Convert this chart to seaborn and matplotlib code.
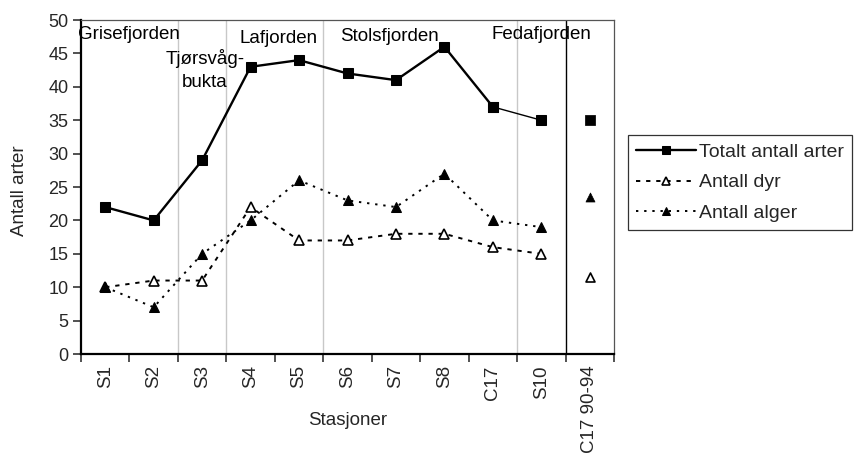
import matplotlib
matplotlib.use("Agg")
import matplotlib.pyplot as plt
import seaborn as sns
import pandas as pd

stations = ["S1", "S2", "S3", "S4", "S5", "S6", "S7", "S8", "C17", "S10"]
extra_station = ["C17 90-94"]
totalt = [22, 20, 29, 43, 44, 42, 41, 46, 37, 35]
dyr = [10, 11, 11, 22, 17, 17, 18, 18, 16, 15]
alger = [10, 7, 15, 20, 26, 23, 22, 27, 20, 19]
extra_totalt = [35]
extra_dyr = [11.5]
extra_alger = [23.5]
yticks = [0, 5, 10, 15, 20, 25, 30, 35, 40, 45, 50]

sns.set_theme(style="white")
plt.rcParams["font.family"] = ["Liberation Sans", "DejaVu Sans"]

fig = plt.figure(figsize=(8.68, 4.66), dpi=100)
ax = fig.add_axes([0.0933, 0.2403, 0.6141, 0.7167])

df = pd.DataFrame({"Stasjon": stations, "tot": totalt, "dyr": dyr, "alg": alger})
dfx = pd.DataFrame({"Stasjon": extra_station, "tot": extra_totalt, "dyr": extra_dyr, "alg": extra_alger})

sns.lineplot(data=df.iloc[:9], x="Stasjon", y="tot", ax=ax, color="black", lw=1.7,
             marker="s", markersize=7, markeredgecolor="black", label="Totalt antall arter", sort=False)
sns.lineplot(data=df.iloc[8:], x="Stasjon", y="tot", ax=ax, color="black", lw=1.0,
             marker="s", markersize=7, markeredgecolor="black", legend=False, sort=False)
sns.lineplot(data=df, x="Stasjon", y="dyr", ax=ax, color="black", lw=1.4,
             marker="^", markersize=7, markerfacecolor="white", markeredgecolor="black",
             markeredgewidth=1.2, label="Antall dyr", sort=False, linestyle=(0, (2.2, 3)))
sns.lineplot(data=df, x="Stasjon", y="alg", ax=ax, color="black", lw=1.4,
             marker="^", markersize=7, markeredgecolor="black",
             label="Antall alger", sort=False, linestyle=(0, (1.2, 3)))

sns.scatterplot(data=dfx, x="Stasjon", y="tot", ax=ax, color="black", marker="s", s=45,
                edgecolor="black", legend=False, zorder=5)
sns.scatterplot(data=dfx, x="Stasjon", y="dyr", ax=ax, color="white", marker="^", s=42,
                edgecolor="black", linewidth=1.2, legend=False, zorder=5)
sns.scatterplot(data=dfx, x="Stasjon", y="alg", ax=ax, color="black", marker="^", s=42,
                edgecolor="black", legend=False, zorder=5)

ax.set_xlim(-0.5, 10.5)
ax.set_ylim(0, 50)
ax.set_yticks(yticks)

for xv in [1.5, 2.5, 4.5, 8.5]:
    ax.axvline(xv, color="#c8c8c8", lw=1.0, zorder=0)
ax.axvline(9.5, color="black", lw=1.0, zorder=0)

ax.set_xticks(range(11))
ax.set_xticklabels(stations + extra_station, rotation=90, fontsize=13.5)
ax.tick_params(axis="x", which="major", length=0, pad=8)
ax.set_xticks([i - 0.5 for i in range(12)], minor=True)
ax.tick_params(axis="x", which="minor", length=6, width=1.2, color="#333333", direction="out", bottom=True)
ax.tick_params(axis="y", which="major", length=6, width=1.2, color="#333333", direction="out",
               left=True, labelsize=13, pad=3)

for s in ["left", "bottom"]:
    ax.spines[s].set_color("black")
    ax.spines[s].set_linewidth(1.6)
for s in ["top", "right"]:
    ax.spines[s].set_color("#555555")
    ax.spines[s].set_linewidth(0.9)

ax.set_xlabel("Stasjoner", fontsize=13.5)
ax.xaxis.set_label_coords(0.5, -0.175)
ax.set_ylabel("Antall arter", fontsize=13.5)
ax.yaxis.label.set_verticalalignment("center")
ax.yaxis.set_label_coords(-0.116, 0.49)

tkw = dict(fontsize=13.5, color="black")
ax.text(-0.56, 47.9, "Grisefjorden", ha="left", va="center", **tkw)
ax.text(2.06, 42.5, "Tjørsvåg-\nbukta", ha="center", va="center", linespacing=1.45, **tkw)
ax.text(3.57, 47.3, "Lafjorden", ha="center", va="center", **tkw)
ax.text(5.86, 47.6, "Stolsfjorden", ha="center", va="center", **tkw)
ax.text(9.0, 47.9, "Fedafjorden", ha="center", va="center", **tkw)

leg = ax.legend(loc="upper left", bbox_to_anchor=(0.7235, 0.71), bbox_transform=fig.transFigure,
                frameon=True, fontsize=14, handlelength=3.1, handletextpad=0.15, markerscale=0.75,
                borderaxespad=0, borderpad=0.4, labelspacing=0.68, fancybox=False)
leg.get_frame().set_edgecolor("black")
leg.get_frame().set_linewidth(0.9)

fig.savefig("out.png", dpi=100)
